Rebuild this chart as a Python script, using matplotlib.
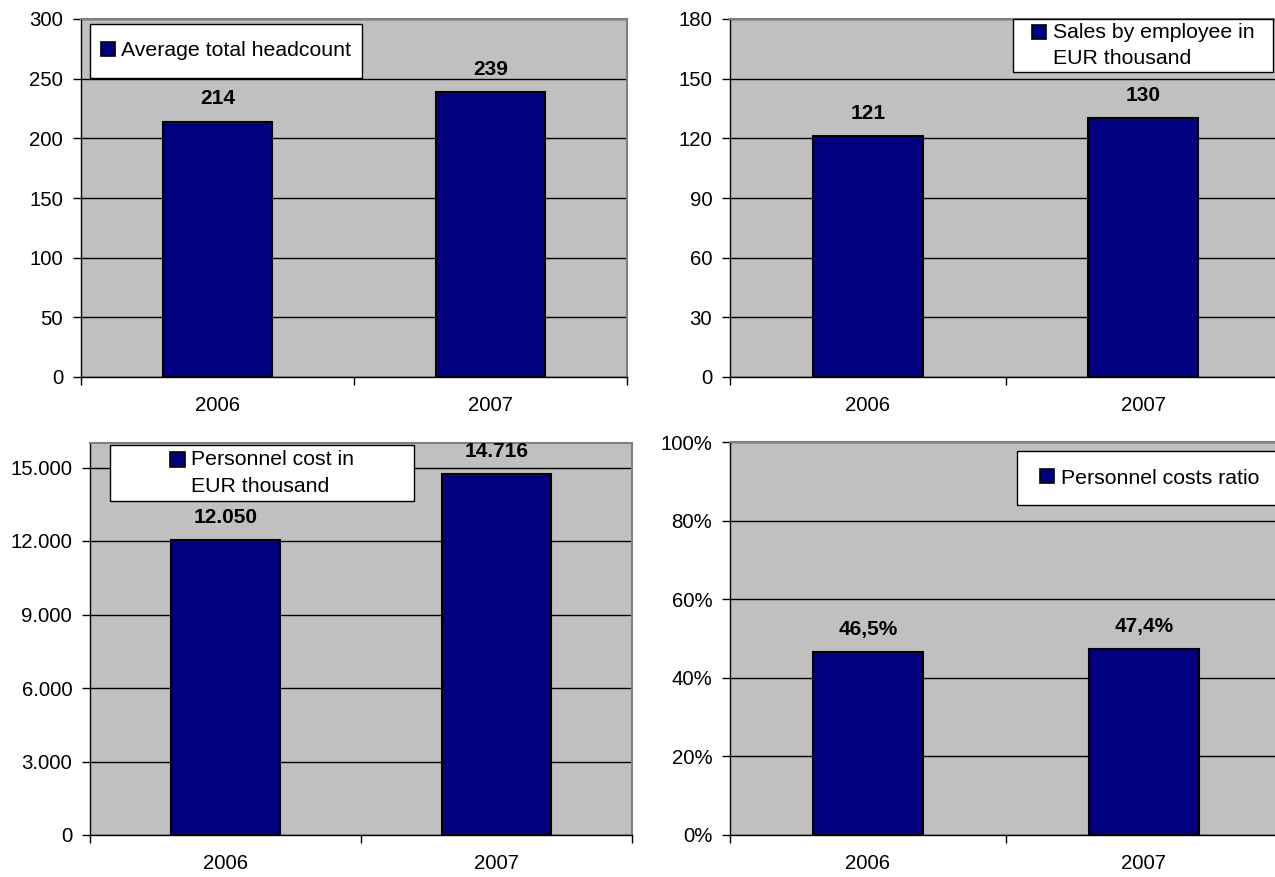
import matplotlib
matplotlib.use("Agg")
import matplotlib.pyplot as plt
from matplotlib.patches import Patch, Rectangle
from matplotlib.legend_handler import HandlerPatch
from matplotlib.ticker import FuncFormatter, MultipleLocator, FixedLocator

plt.rcParams['font.family'] = ['Liberation Sans', 'DejaVu Sans']

# ---- data ----
years = ['2006', '2007']
headcount = [214, 239]
sales_per_employee = [121, 130]
personnel_cost = [12050, 14716]
cost_ratio = [46.5, 47.4]

legend_headcount = 'Average total headcount'
legend_sales = 'Sales by employee in\nEUR thousand'
legend_cost = 'Personnel cost in\nEUR thousand'
legend_ratio = 'Personnel costs ratio'

W, H = 1275, 877
BAR = '#000080'
BG = '#C0C0C0'
FS_TICK = 14.7
FS_LEG = 15.3
FS_VAL = 15.0
LINESP = 1.5


def fmt_int(v):
    return f"{v:,.0f}".replace(',', '.')


def fmt_pct(v):
    return f"{v:.1f}".replace('.', ',') + '%'


def fmt_pct_tick(v, _):
    return f"{v:.0f}%"


def fmt_thousand_tick(v, _):
    return fmt_int(v)


class TopSquare(HandlerPatch):
    """Square legend key aligned with the first line of a multi-line label."""

    def __init__(self, nlines):
        super().__init__()
        self.nlines = nlines

    def create_artists(self, legend, orig_handle, xdescent, ydescent,
                       width, height, fontsize, trans):
        size = min(width, height)
        shift = 0.5 * (self.nlines - 1) * LINESP * 0.84 * fontsize
        p = Rectangle((-xdescent + (width - size) / 2,
                       -ydescent + (height - size) / 2 + shift), size, size)
        self.update_prop(p, orig_handle, legend)
        p.set_transform(trans)
        return [p]


fig = plt.figure(figsize=(W / 100, H / 100), dpi=100, facecolor='white')


def panel(box, values, ymax, ystep, tickfmt, labelfmt, legend_text, legbox):
    left, right, top, bottom = box
    ax = fig.add_axes([left / W, (H - bottom) / H, (right - left) / W, (bottom - top) / H])
    ax.set_facecolor(BG)
    x = list(range(len(years)))
    ax.bar(x, values, width=0.4, color=BAR, edgecolor='black', linewidth=1.5, zorder=2)
    ax.set_xlim(-0.5, len(years) - 0.5)
    ax.set_ylim(0, ymax)
    ax.yaxis.set_major_locator(MultipleLocator(ystep))
    ax.yaxis.set_major_formatter(FuncFormatter(tickfmt))
    ax.yaxis.grid(True, color='black', linewidth=1.0)
    ax.set_axisbelow(True)
    ax.tick_params(axis='y', direction='out', length=5.8, width=1, pad=7, labelsize=FS_TICK)
    # x axis: boundary ticks + centered labels
    ax.xaxis.set_major_locator(FixedLocator([-0.5 + i for i in range(len(years) + 1)]))
    ax.xaxis.set_major_formatter(FuncFormatter(lambda v, _: ''))
    ax.xaxis.set_minor_locator(FixedLocator(x))
    ax.set_xticklabels(years, minor=True)
    ax.tick_params(axis='x', which='major', direction='out', length=5.5, width=1)
    ax.tick_params(axis='x', which='minor', length=0, pad=14, labelsize=FS_TICK)
    for s in ('left', 'bottom'):
        ax.spines[s].set_color('black')
        ax.spines[s].set_linewidth(1.0)
    for s in ('top', 'right'):
        ax.spines[s].set_color('#808080')
        ax.spines[s].set_linewidth(1.5)
    for xi, v in zip(x, values):
        ax.annotate(labelfmt(v), (xi, v), xytext=(0, 9.5), textcoords='offset points',
                    ha='center', va='bottom', fontsize=FS_VAL, fontweight='bold', zorder=6)
    # legend frame + legend
    lx0, lx1, ly0, ly1 = legbox
    fx0 = (lx0 - left) / (right - left)
    fx1 = (lx1 - left) / (right - left)
    fy0 = (bottom - ly1) / (bottom - top)
    fy1 = (bottom - ly0) / (bottom - top)
    ax.add_patch(Rectangle((fx0, fy0), fx1 - fx0, fy1 - fy0, transform=ax.transAxes,
                           facecolor='white', edgecolor='black', linewidth=1.0,
                           zorder=4, clip_on=False))
    handle = Patch(facecolor=BAR, edgecolor='black', linewidth=1.2)
    nlines = legend_text.count('\n') + 1
    leg = ax.legend([handle], [legend_text], loc='center',
                    bbox_to_anchor=((fx0 + fx1) / 2, (fy0 + fy1) / 2),
                    frameon=False, fontsize=FS_LEG, handlelength=0.68, handleheight=0.68,
                    handletextpad=0.3, borderpad=0, borderaxespad=0,
                    handler_map={Patch: TopSquare(nlines)})
    for t in leg.get_texts():
        t.set_linespacing(LINESP)
    leg.set_zorder(5)
    return ax


panel((81, 627, 19, 377), headcount, 300, 50, lambda v, _: f"{v:.0f}", fmt_int,
      legend_headcount, (90, 362, 24, 78))
panel((730, 1281, 19, 377), sales_per_employee, 180, 30, lambda v, _: f"{v:.0f}", fmt_int,
      legend_sales, (1013, 1273, 19, 72))
panel((90, 632, 443, 835), personnel_cost, 16000, 3000, fmt_thousand_tick, fmt_int,
      legend_cost, (110, 414, 445, 501))
panel((730, 1282, 442, 835), cost_ratio, 100, 20, fmt_pct_tick, fmt_pct,
      legend_ratio, (1017, 1282, 451, 505))

fig.savefig('out.png', dpi=100, facecolor='white')
